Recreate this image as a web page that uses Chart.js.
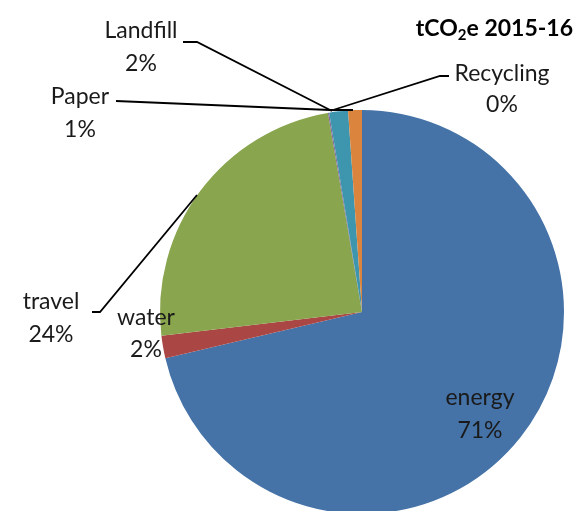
<!DOCTYPE html>
<html>
<head>
<meta charset="utf-8">
<script src="https://cdn.jsdelivr.net/npm/chart.js@4"></script>
<style>
  html, body { margin: 0; padding: 0; background: #fff; overflow: hidden; }
  #wrap { position: absolute; left: 0; top: 0; width: 579px; height: 520px; }
</style>
</head>
<body>
<div id="wrap"><canvas id="pieChart" width="579" height="520"></canvas></div>
<script>
// data
const categories = ['energy', 'water', 'travel', 'Paper', 'Landfill', 'Recycling'];
const values = [71.4, 1.8, 24.2, 0.1, 1.5, 1.1];
const percentLabels = ['71%', '2%', '24%', '1%', '2%', '0%'];
const colors = ['#4572A7', '#AA4643', '#89A54E', '#80699B', '#3D96AE', '#DB843D'];

// label placement (center x, y of first line, y of second line) and leader lines
const labelPos = [
  [480, 398, 431],
  [146, 318, 350],
  [51, 302, 335],
  [80, 97, 130],
  [141, 31, 64],
  [502, 74, 105]
];
const leaders = [
  null,
  null,
  [[92, 312], [100, 312], [197, 195]],
  [[116, 101], [330, 110], [353, 110]],
  [[183, 42], [197, 42], [332, 111]],
  [[449, 76], [440, 76], [333, 110]]
];

const labelFont = '23px Lato';

const labelsPlugin = {
  id: 'excelLabels',
  afterDraw(chart) {
    const ctx = chart.ctx;
    ctx.save();
    // leader lines
    ctx.strokeStyle = '#000';
    ctx.lineWidth = 1.8;
    leaders.forEach(pts => {
      if (!pts) return;
      ctx.beginPath();
      ctx.moveTo(pts[0][0], pts[0][1]);
      for (let i = 1; i < pts.length; i++) ctx.lineTo(pts[i][0], pts[i][1]);
      ctx.stroke();
    });
    // data labels
    ctx.fillStyle = '#1a1a1a';
    ctx.font = labelFont;
    ctx.textAlign = 'center';
    ctx.textBaseline = 'middle';
    categories.forEach((c, i) => {
      const p = labelPos[i];
      ctx.fillText(c, p[0], p[1]);
      ctx.fillText(percentLabels[i], p[0], p[2]);
    });
    // title with subscript
    const right = 573, base = 36;
    const big = 'bold 23px Lato', small = 'bold 15px Lato';
    ctx.textBaseline = 'alphabetic';
    ctx.textAlign = 'left';
    ctx.font = big;
    const w1 = ctx.measureText('tCO').width;
    const w3 = ctx.measureText('e 2015-16').width;
    ctx.font = small;
    const w2 = ctx.measureText('2').width;
    let x = right - (w1 + w2 + w3);
    ctx.fillStyle = '#000';
    ctx.font = big;
    ctx.fillText('tCO', x, base);
    x += w1;
    ctx.font = small;
    ctx.fillText('2', x, base + 4);
    x += w2;
    ctx.font = big;
    ctx.fillText('e 2015-16', x, base);
    ctx.restore();
  }
};

new Chart(document.getElementById('pieChart').getContext('2d'), {
  type: 'pie',
  data: {
    labels: categories,
    datasets: [{
      data: values,
      backgroundColor: colors,
      borderWidth: 0,
      hoverOffset: 0
    }]
  },
  options: {
    responsive: false,
    animation: false,
    radius: 202,
    layout: { padding: { left: 160, right: 15, top: 110, bottom: 6 } },
    plugins: {
      legend: { display: false },
      tooltip: { enabled: false }
    }
  },
  plugins: [labelsPlugin]
});
</script>
</body>
</html>
